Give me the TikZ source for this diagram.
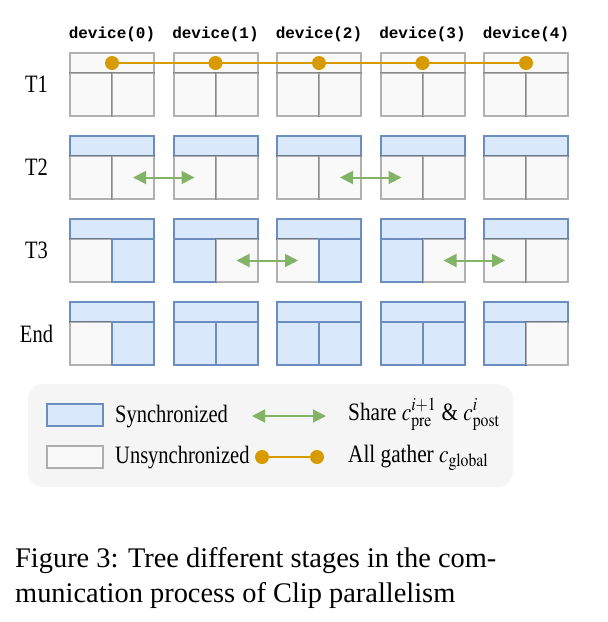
\documentclass[tikz,border=0pt]{standalone}
\usepackage{mathptmx}
\usepackage{fontspec}
\setmainfont{Liberation Serif}
\newfontfamily\narrowfont{Liberation Serif}[FakeStretch=0.82]
\newfontfamily\devfont{Liberation Mono}
\usetikzlibrary{arrows.meta}
\usetikzlibrary{positioning}
\definecolor{custom-blue}{RGB}{218, 232, 252}
\definecolor{custom-blue-line}{RGB}{108, 142, 191}
\definecolor{custom-gray}{RGB}{249, 249, 249}
\definecolor{custom-gray-line}{RGB}{102, 102, 102}
\definecolor{custom-green}{RGB}{130, 179, 102}
\definecolor{custom-orange}{RGB}{215, 155, 0}
\definecolor{custom-legend}{RGB}{245, 245, 245}

% one device: name, left x, top y, header, left half, right half
\newcommand{\devbox}[6]{%
  \node[hdr, #4] (#1-h) at (#2+42, #3+10) {};
  \node[half, #5, anchor=north west] (#1-l) at (#1-h.south west) {};
  \node[half, #6, anchor=north east] (#1-r) at (#1-h.south east) {};
}

\begin{document}
\begin{tikzpicture}[x=1pt, y=-1pt,
    sync/.style={fill=custom-blue, draw=custom-blue-line, line width=2},
    unsync/.style={fill=custom-gray, draw=custom-gray-line, draw opacity=0.5, line width=2},
    hdr/.style={inner sep=0, outer sep=0, minimum width=84, minimum height=20},
    half/.style={inner sep=0, outer sep=0, minimum width=42, minimum height=43},
    devlabel/.style={font=\devfont\bfseries\fontsize{16}{18}\selectfont, inner sep=0},
    rowlabel/.style={font=\narrowfont\fontsize{25}{30}\selectfont, inner sep=0},
    legtext/.style={font=\narrowfont\fontsize{25}{30}\selectfont, inner sep=0, anchor=base west},
    captext/.style={font=\fontsize{28.4}{35}\selectfont, inner sep=0, anchor=base west},
    share/.style={custom-green, line width=2, {Triangle[length=13, width=13]}-{Triangle[length=13, width=13]}},
    gather/.style={custom-orange, line width=2},
    dot/.style={circle, fill=custom-orange, inner sep=0, minimum size=14}]
\useasboundingbox (0,0) rectangle (608,622);

% device names
\foreach \d in {0,...,4}
  \node[devlabel, anchor=base] (dev\d) at (112+103.5*\d, 38) {device(\d)};

% stage labels
\foreach \r/\t in {0/T1, 1/T2, 2/T3, 3/End}
  \node[rowlabel] (lab\t) at (36.5, 84.5+83*\r) {\t};

% T1
\foreach \d in {0,...,4}
  {\devbox{T1-\d}{70+103.5*\d}{53}{unsync}{unsync}{unsync}}
% T2
\foreach \d in {0,...,4}
  {\devbox{T2-\d}{70+103.5*\d}{136}{sync}{unsync}{unsync}}
% T3
\foreach \d/\lft/\rgt in {0/unsync/sync, 1/sync/unsync, 2/unsync/sync, 3/sync/unsync, 4/unsync/unsync}
  {\devbox{T3-\d}{70+103.5*\d}{219}{sync}{\lft}{\rgt}}
% End
\foreach \d/\lft/\rgt in {0/unsync/sync, 1/sync/sync, 2/sync/sync, 3/sync/sync, 4/sync/unsync}
  {\devbox{End-\d}{70+103.5*\d}{302}{sync}{\lft}{\rgt}}

% all gather
\draw[gather] (T1-0-h.center) -- (T1-4-h.center);
\foreach \d in {0,...,4}
  \node[dot] (g\d) at (T1-\d-h.center) {};

% neighbour exchange
\draw[share] (T2-0-r.center) -- (T2-1-l.center);
\draw[share] (T2-2-r.center) -- (T2-3-l.center);
\draw[share] (T3-1-r.center) -- (T3-2-l.center);
\draw[share] (T3-3-r.center) -- (T3-4-l.center);

% legend
\node[fill=custom-legend, rounded corners=15, minimum width=485, minimum height=103] (legend) at (270.5, 435.5) {};
\node[sync, minimum width=56, minimum height=22] (key-sync) at (75, 415) {};
\node[unsync, minimum width=56, minimum height=22] (key-unsync) at (75, 456.5) {};
\node[legtext] (txt-sync) at (115, 422) {Synchronized};
\node[legtext] (txt-unsync) at (115, 463) {Unsynchronized};
\coordinate (share-a) at (252, 416);
\coordinate (share-b) at (326, 416);
\draw[share] (share-a) -- (share-b);
\node[dot] (ga) at (262, 457) {};
\node[dot] (gb) at (317, 457) {};
\draw[gather] (ga) -- (gb);
\node[legtext, font=\fontsize{25}{30}\selectfont] (txt-share) at (348, 420)
  {\scalebox{0.85}[1]{Share $c^{i+1}_{\mathrm{pre}}$ \& $c^{i}_{\mathrm{post}}$}};
\node[legtext, font=\fontsize{25}{30}\selectfont] (txt-gather) at (348, 462)
  {\scalebox{0.85}[1]{All gather $c_{\mathrm{global}}$}};

% caption
\node[captext] (cap1) at (15, 567) {Figure 3: Tree different stages in the com-};
\node[captext] (cap2) at (15, 602) {munication process of Clip parallelism};
\end{tikzpicture}
\end{document}
